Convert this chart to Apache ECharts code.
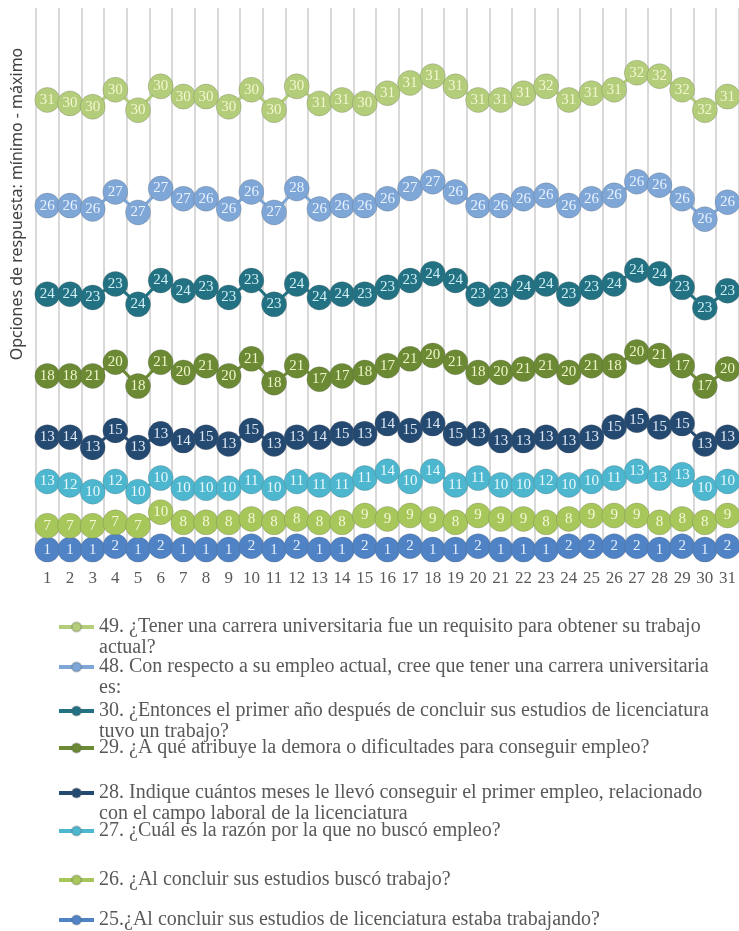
<!DOCTYPE html>
<html><head><meta charset="utf-8">
<script src="https://cdn.jsdelivr.net/npm/echarts@6/dist/echarts.min.js"></script>
<style>html,body{margin:0;padding:0;background:#fff}#c{width:739px;height:931px}</style>
</head><body><div id="c"></div><script>
const categories = ['1','2','3','4','5','6','7','8','9','10','11','12','13','14','15','16','17','18','19','20','21','22','23','24','25','26','27','28','29','30','31'];
const q25 = [1,1,1,2,1,2,1,1,1,2,1,2,1,1,2,1,2,1,1,2,1,1,1,2,2,2,2,1,2,1,2];
const q26 = [7,7,7,7,7,10,8,8,8,8,8,8,8,8,9,9,9,9,8,9,9,9,8,8,9,9,9,8,8,8,9];
const q27 = [13,12,10,12,10,10,10,10,10,11,10,11,11,11,11,14,10,14,11,11,10,10,12,10,10,11,13,13,13,10,10];
const q28 = [13,14,13,15,13,13,14,15,13,15,13,13,14,15,13,14,15,14,15,13,13,13,13,13,13,15,15,15,15,13,13];
const q29 = [18,18,21,20,18,21,20,21,20,21,18,21,17,17,18,17,21,20,21,18,20,21,21,20,21,18,20,21,17,17,20];
const q30 = [24,24,23,23,24,24,24,23,23,23,23,24,24,24,23,23,23,24,24,23,23,24,24,23,23,24,24,24,23,23,23];
const q48 = [26,26,26,27,27,27,27,26,26,26,27,28,26,26,26,26,27,27,26,26,26,26,26,26,26,26,26,26,26,26,26];
const q49 = [31,30,30,30,30,30,30,30,30,30,30,30,31,31,30,31,31,31,31,31,31,31,32,31,31,31,32,32,32,32,31];

const seriesNames = [
  '25.¿Al concluir sus estudios de licenciatura estaba trabajando?',
  '26. ¿Al concluir sus estudios buscó trabajo?',
  '27. ¿Cuál es la razón por la que no buscó empleo?',
  '28. Indique cuántos meses le llevó conseguir el primer empleo, relacionado con el campo laboral de la licenciatura',
  '29. ¿A qué atribuye la demora o dificultades para conseguir empleo?',
  '30. ¿Entonces el primer año después de concluir sus estudios de licenciatura tuvo un trabajo?',
  '48. Con respecto a su empleo actual, cree que tener una carrera universitaria es:',
  '49. ¿Tener una carrera universitaria fue un requisito para obtener su trabajo actual?'
];
const legendLines = [
  ['25.¿Al concluir sus estudios de licenciatura estaba trabajando?'],
  ['26. ¿Al concluir sus estudios buscó trabajo?'],
  ['27. ¿Cuál es la razón por la que no buscó empleo?'],
  ['28. Indique cuántos meses le llevó conseguir el primer empleo, relacionado', 'con el campo laboral de la licenciatura'],
  ['29. ¿A qué atribuye la demora o dificultades para conseguir empleo?'],
  ['30. ¿Entonces el primer año después de concluir sus estudios de licenciatura', 'tuvo un trabajo?'],
  ['48. Con respecto a su empleo actual, cree que tener una carrera universitaria', 'es:'],
  ['49. ¿Tener una carrera universitaria fue un requisito para obtener su trabajo', 'actual?']
];
const seriesData = [q25, q26, q27, q28, q29, q30, q48, q49];

const colors = ['#4f83c6','#a8c75a','#4db7d0','#254a72','#6b8a33','#237283','#7ea6d6','#b3cd7a'];
const labelColors = ['#e6effa','#f4f8d8','#e8f8fb','#dfe9f5','#eef5c8','#cfeff5','#e8f2ff','#f3f7d0'];
const legendCenters = [920, 880, 831, 793, 748, 711, 667, 627];

const chart = echarts.init(document.getElementById('c'), null, {renderer:'canvas'});
const serif = '"Liberation Serif","Times New Roman",serif';

const legends = seriesNames.map((n, i) => {
  const lines = legendLines[i];
  const two = lines.length > 1;
  const txt = two ? '\u00a0\n' + lines[0] + '\n' + lines[1] : lines[0];
  return {
    data: [n],
    orient: 'vertical',
    left: 57,
    top: legendCenters[i] - (two ? 31.5 : 10.5),
    padding: 0,
    itemWidth: 35,
    itemHeight: 12,
    itemGap: 0,
    lineStyle: { width: 4 },
    formatter: () => txt,
    textStyle: { fontFamily: serif, fontSize: 20, color: '#595959', lineHeight: 21 }
  };
});

const series = seriesNames.map((n, i) => ({
  name: n,
  type: 'line',
  stack: 'total',
  data: seriesData[i],
  symbol: 'circle',
  symbolSize: 25,
  showSymbol: true,
  lineStyle: { color: colors[i], width: 3 },
  itemStyle: { color: colors[i], borderColor: 'rgba(90,90,90,0.25)', borderWidth: 1 },
  label: {
    show: true, position: 'inside', color: labelColors[i],
    fontFamily: serif, fontSize: 15
  },
  emphasis: { disabled: true },
  animation: false
}));

chart.setOption({
  animation: false,
  backgroundColor: '#ffffff',
  color: colors,
  grid: { left: 36, right: 0, top: 8, bottom: 931 - 553, containLabel: false },
  xAxis: {
    type: 'category',
    data: categories,
    boundaryGap: true,
    axisLine: { show: false },
    axisTick: { show: false },
    axisLabel: { color: '#595959', fontFamily: serif, fontSize: 17, margin: 17, interval: 0 },
    splitLine: { show: true, interval: 0, lineStyle: { color: '#d9d9d9', width: 2 } }
  },
  yAxis: {
    type: 'value',
    min: 0, max: 160,
    show: false,
    splitLine: { show: false }
  },
  legend: legends,
  graphic: [{
    type: 'text',
    x: 17, y: 204,
    rotation: Math.PI / 2,
    style: {
      text: 'Opciones de respuesta: mínimo - máximo',
      fill: '#404040',
      font: '16px "Noto Sans", "Open Sans", sans-serif',
      align: 'center',
      verticalAlign: 'middle'
    }
  }],
  series: series
});
</script></body></html>
